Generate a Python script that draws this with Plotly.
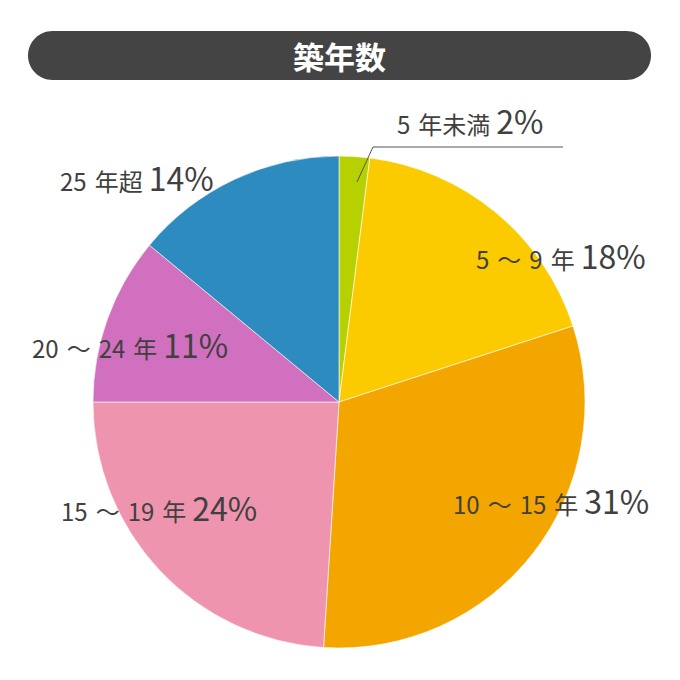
import plotly.graph_objects as go

# Chart data
categories = ['5 年未満', '5 〜 9 年', '10 〜 15 年', '15 〜 19 年', '20 〜 24 年', '25 年超']
shares = [2, 18, 31, 24, 11, 14]
slice_colors = ['#b7d100', '#fbcb00', '#f4a600', '#ee94ae', '#d070bf', '#2e8bc0']
title_text = '築年数'

# Label placement in pixels (center x, center y) on the 680x680 window
label_pos = [(470, 120), (561, 255), (551, 500), (159, 507), (130, 344), (137, 177)]

W = H = 680
OFF = 8  # page body margin
FONT = 'Noto Sans CJK JP'
TEXT_COLOR = '#404040'
SP = '\u2004'  # slightly wider gap than a normal space
SP_PCT = '\u2005'  # gap before the percentage


def px(x):
    return (x - OFF) / W


def py(y):
    return 1 - (y - OFF) / H


fig = go.Figure()

fig.add_trace(go.Pie(
    labels=categories,
    values=shares,
    sort=False,
    direction='clockwise',
    rotation=0,
    textinfo='none',
    hovertemplate='%{label}: %{value}%<extra></extra>',
    marker=dict(colors=slice_colors, line=dict(color='white', width=0.6)),
    domain=dict(x=[px(93), px(585)], y=[py(648), py(156)]),
    showlegend=False,
))

# Category labels with big percentage
for cat, val, (lx, ly) in zip(categories, shares, label_pos):
    label = cat.replace(' ', SP)
    fig.add_annotation(
        x=px(lx), y=py(ly), xref='paper', yref='paper',
        text=f"{label}{SP_PCT}<span style='font-size:32px'>{val}%</span>",
        showarrow=False,
        xanchor='center', yanchor='middle',
        font=dict(family=FONT, size=24, color=TEXT_COLOR),
    )

# Leader line for the small slice
fig.add_shape(
    type='path', xref='paper', yref='paper',
    path=f'M {px(357)} {py(182)} L {px(373)} {py(147)} L {px(563)} {py(147)}',
    line=dict(color='#555555', width=1),
)

# Rounded title bar
x0, x1, y0, y1 = 28, 651, 31, 80
r = (y1 - y0) / 2
k = 0.5523 * r
bar = (
    f'M {px(x0 + r)} {py(y0)} L {px(x1 - r)} {py(y0)} '
    f'C {px(x1 - r + k)} {py(y0)} {px(x1)} {py(y0 + r - k)} {px(x1)} {py(y0 + r)} '
    f'C {px(x1)} {py(y0 + r + k)} {px(x1 - r + k)} {py(y1)} {px(x1 - r)} {py(y1)} '
    f'L {px(x0 + r)} {py(y1)} '
    f'C {px(x0 + r - k)} {py(y1)} {px(x0)} {py(y1 - r + k)} {px(x0)} {py(y1 - r)} '
    f'C {px(x0)} {py(y0 + r - k)} {px(x0 + r - k)} {py(y0)} {px(x0 + r)} {py(y0)} Z'
)
fig.add_shape(type='path', xref='paper', yref='paper', path=bar,
              fillcolor='#444444', line=dict(width=0), layer='below')

fig.add_annotation(
    x=px(339), y=py(56), xref='paper', yref='paper',
    text=f'<b>{title_text}</b>', showarrow=False,
    xanchor='center', yanchor='middle',
    font=dict(family=FONT, size=31, color='white'),
)

fig.update_layout(
    width=W, height=H,
    margin=dict(l=0, r=0, t=0, b=0),
    paper_bgcolor='white',
    plot_bgcolor='white',
    font=dict(family=FONT),
)

fig.write_html('out.html')
